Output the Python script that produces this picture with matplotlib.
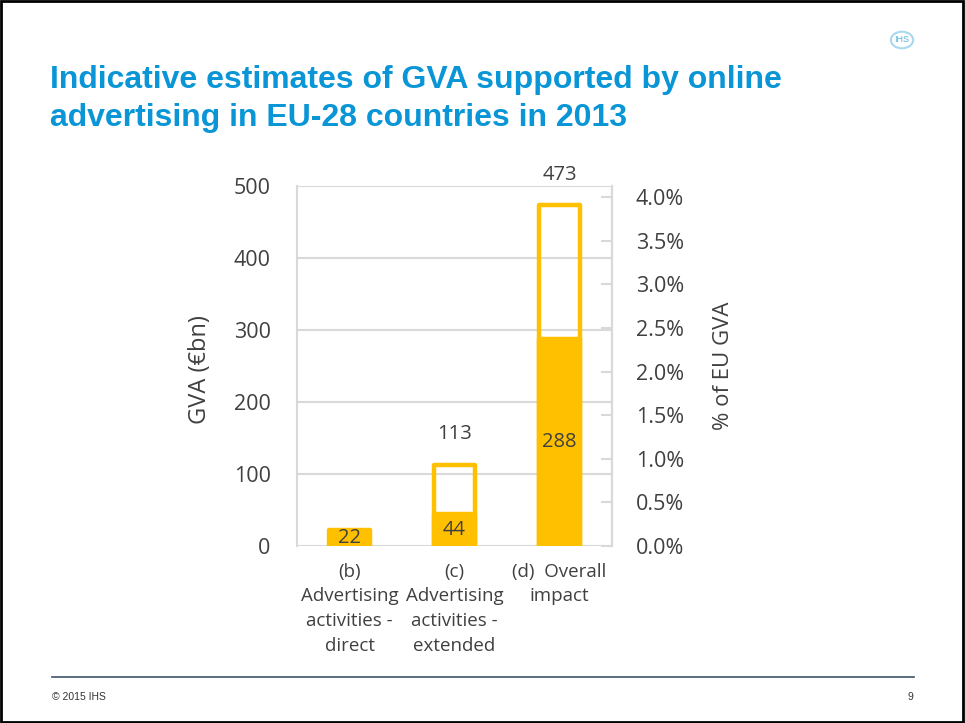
import numpy as np
import matplotlib.pyplot as plt
from matplotlib.patches import Rectangle, Circle
from matplotlib.lines import Line2D

categories = ["(b)\nAdvertising\nactivities -\ndirect",
              "(c)\nAdvertising\nactivities -\nextended",
              "(d)  Overall\nimpact"]
filled_values = [22, 44, 288]
total_values = [None, 113, 473]
left_ticks = [0, 100, 200, 300, 400, 500]
right_ticks = [0.0, 0.5, 1.0, 1.5, 2.0, 2.5, 3.0, 3.5, 4.0]
right_max = 4.126

YELLOW = '#FFC000'
TXT = '#404040'
BLUE = '#0A96D6'
FONT = 'Open Sans'

plt.rcParams['font.family'] = [FONT, 'DejaVu Sans']

fig = plt.figure(figsize=(9.65, 7.23), dpi=100)
ax = fig.add_axes([0.3078, 0.2448, 0.3264, 0.4979])

x = np.arange(len(categories))
w = 0.39
ax.bar(x, filled_values, width=w, color=YELLOW, edgecolor=YELLOW,
       linewidth=3.2, joinstyle='round', zorder=3)
for xi, tot in zip(x, total_values):
    if tot is not None:
        ax.bar(xi, tot, width=w, fill=False, edgecolor=YELLOW,
               linewidth=3.2, joinstyle='round', zorder=3)
        ax.annotate(str(tot), (xi, tot), xytext=(0, 22), textcoords='offset points',
                    ha='center', va='center', fontsize=14.5, color=TXT)
for xi, v in zip(x, filled_values):
    ax.text(xi, v / 2, str(v), ha='center', va='center', fontsize=14.5,
            color=TXT, zorder=4)

ax.set_xlim(-0.5, 2.5)
ax.set_ylim(0, 500)
ax.set_yticks(left_ticks)
ax.yaxis.grid(True, color='#D9D9D9', linewidth=1.5)
ax.set_axisbelow(True)
ax.tick_params(axis='y', length=0, pad=19, labelsize=15.5, labelcolor=TXT)
ax.set_xticks(x)
ax.set_xticklabels(categories, fontsize=13.5, color=TXT, linespacing=1.48, va='top')
ax.tick_params(axis='x', length=0, pad=12)
for s in ['top', 'bottom']:
    ax.spines[s].set_visible(False)
for s in ['left', 'right']:
    ax.spines[s].set_color('#D9D9D9')
    ax.spines[s].set_linewidth(1.5)
ax.set_ylabel('GVA (€bn)', fontsize=17, color=TXT)
ax.yaxis.set_label_coords(-0.27, 0.49)

ax2 = ax.twinx()
ax2.set_ylim(0, right_max)
ax2.set_yticks(right_ticks)
ax2.set_yticklabels([f'{t:.1f}%' for t in right_ticks])
ax2.tick_params(axis='y', direction='in', length=8, width=1.5, color='#D9D9D9',
                pad=17, labelsize=15.5, labelcolor=TXT)
for s in ['top', 'bottom', 'left']:
    ax2.spines[s].set_visible(False)
ax2.spines['right'].set_color('#D9D9D9')
ax2.spines['right'].set_linewidth(1.5)
ax2.set_ylabel('% of EU GVA', fontsize=16, color=TXT, rotation=90)
ax2.yaxis.set_label_coords(1.32, 0.5)

fig.text(50 / 965, 1 - 80 / 723, 'Indicative estimates of GVA supported by online',
         family='Liberation Sans', fontweight='bold', fontsize=23, color=BLUE, va='center')
fig.text(50 / 965, 1 - 118 / 723, 'advertising in EU-28 countries in 2013',
         family='Liberation Sans', fontweight='bold', fontsize=23, color=BLUE, va='center')

# logo
fig.patches.append(Circle((902 / 965, 1 - 40 / 723), 0.0115, transform=fig.transFigure,
                          facecolor='white', edgecolor='#A8D8EE', linewidth=1.5))
fig.text(902 / 965, 1 - 40 / 723, 'IHS', family='Liberation Sans', fontsize=6.5,
         color='#5AB4E0', ha='center', va='center')

# footer
fig.add_artist(Line2D([52 / 965, 914 / 965], [1 - 677 / 723, 1 - 677 / 723],
                      transform=fig.transFigure, color='#3E5468', linewidth=1.2))
fig.text(52 / 965, 1 - 697 / 723, '© 2015 IHS', family='Liberation Sans',
         fontsize=7.5, color='#333333', va='center')
fig.text(913 / 965, 1 - 697 / 723, '9', family='Liberation Sans',
         fontsize=7.5, color='#333333', va='center', ha='right')

# frame
fig.patches.append(Rectangle((0.001, 0.002), 0.997, 0.997, transform=fig.transFigure,
                             fill=False, edgecolor='black', linewidth=2))

fig.savefig('out.png', dpi=100)
